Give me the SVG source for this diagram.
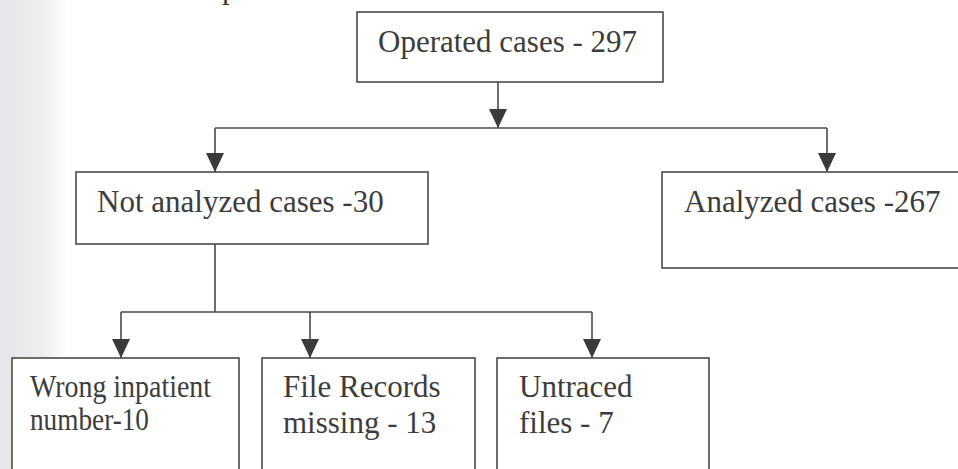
<svg xmlns="http://www.w3.org/2000/svg" width="958" height="469" viewBox="0 0 958 469">
  <style>
    .box { fill: #ffffff; stroke: #4a4a4a; stroke-width: 1.6; }
    .lbl { font-family: "Liberation Serif", "Times New Roman", serif; font-size: 31px; fill: #3c3c3c; }
    .wire { fill: none; stroke: #4a4a4a; stroke-width: 1.6; }
    .arrow { fill: none; stroke: #4a4a4a; stroke-width: 1.6; marker-end: url(#head); }
  </style>
  <defs>
    <!-- solid triangular head, tip placed on the end of the line -->
    <marker id="head" markerUnits="userSpaceOnUse" markerWidth="19" markerHeight="18" refX="19" refY="9" orient="auto" viewBox="0 0 19 18">
      <path d="M0,0 L19,9 L0,18 Z" fill="#3a3a3a"/>
    </marker>
    <linearGradient id="edge" x1="0" y1="0" x2="1" y2="0">
      <stop offset="0" stop-color="#e6e6ea"/>
      <stop offset="0.6" stop-color="#ededf0"/>
      <stop offset="1" stop-color="#ffffff"/>
    </linearGradient>
  </defs>

  <rect x="0" y="0" width="958" height="469" fill="#ffffff"/>
  <rect x="0" y="0" width="68" height="469" fill="url(#edge)"/>

  <!-- fragment of the line above the chart -->
  <text class="lbl" x="222" y="-2">p</text>

  <g id="connectors">
    <path class="arrow" d="M498,82 V128"/>
    <path class="wire" d="M215,128 H827"/>
    <path class="arrow" d="M215,128 V172"/>
    <path class="arrow" d="M827,128 V172"/>
    <path class="wire" d="M215,244 V312 M121,312 H592"/>
    <path class="arrow" d="M121,312 V358"/>
    <path class="arrow" d="M310,312 V358"/>
    <path class="arrow" d="M592,312 V358"/>
  </g>

  <g id="operated">
    <rect class="box" x="357" y="12" width="306" height="70"/>
    <text class="lbl" x="378" y="52">Operated cases - 297</text>
  </g>

  <g id="not-analyzed">
    <rect class="box" x="76" y="172" width="352" height="72"/>
    <text class="lbl" x="97" y="212">Not analyzed cases -30</text>
  </g>

  <g id="analyzed">
    <rect class="box" x="662" y="172" width="310" height="96"/>
    <text class="lbl" x="684" y="212">Analyzed cases -267</text>
  </g>

  <g id="wrong-number">
    <rect class="box" x="12" y="358" width="227" height="130"/>
    <text class="lbl" x="30" y="397" textLength="181" lengthAdjust="spacingAndGlyphs">Wrong inpatient</text>
    <text class="lbl" x="30" y="430" textLength="119" lengthAdjust="spacingAndGlyphs">number-10</text>
  </g>

  <g id="records-missing">
    <rect class="box" x="262" y="358" width="213" height="130"/>
    <text class="lbl" x="283" y="397">File Records</text>
    <text class="lbl" x="283" y="433">missing - 13</text>
  </g>

  <g id="untraced">
    <rect class="box" x="497" y="358" width="212" height="130"/>
    <text class="lbl" x="519" y="397">Untraced</text>
    <text class="lbl" x="519" y="433">files - 7</text>
  </g>
</svg>
